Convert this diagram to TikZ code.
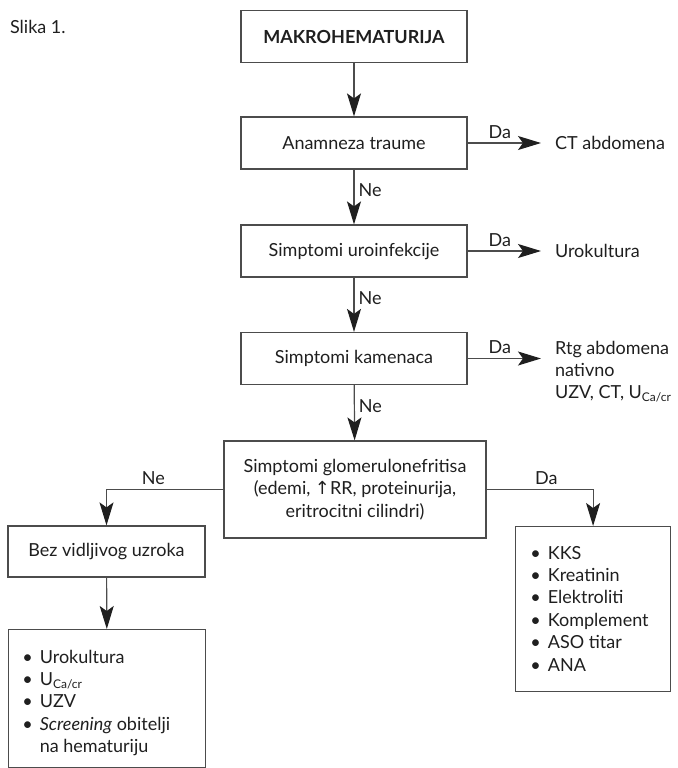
\documentclass[tikz,border=0pt]{standalone}
\usepackage{fontspec}
\setmainfont{Lato}
\newfontfamily\symfont{DejaVu Sans}
\usetikzlibrary{arrows.meta}

\begin{document}
\begin{tikzpicture}[x=0.5pt, y=-0.5pt,
    font=\fontsize{9}{11.2}\selectfont, text=black!88,
    box/.style={rectangle, draw=black!70, line width=0.6pt, minimum width=113pt, minimum height=26pt, align=center},
    flow/.style={draw=black!70, line width=0.6pt, -{Stealth[length=11.5pt, width=7pt, inset=2.5pt, color=black!88]}},
    lab/.style={inner sep=2pt}]
    \useasboundingbox (0,0) rectangle (677,768);
    \node[anchor=west] (slika) at (3,27) {Slika 1.};
    % main column
    \node[box, font=\fontsize{9}{11.2}\selectfont\bfseries] (start) at (354,36.5) {MAKROHEMATURIJA};
    \node[box] (trauma) at (354,143) {Anamneza traume};
    \node[box] (uro) at (354,251) {Simptomi uroinfekcije};
    \node[box] (kam) at (354,358.5) {Simptomi kamenaca};
    \node[box, minimum width=131pt, minimum height=48.5pt] (glom) at (355,489.5)
        {Simptomi glomerulonefritisa\\(edemi, {\symfont\char"2191}RR, proteinurija,\\eritrocitni cilindri)};
    % right side results
    \node[anchor=west] (ct) at (548,143) {CT abdomena};
    \node[anchor=west] (urok) at (548,251) {Urokultura};
    \node[anchor=west, align=left] (rtg) at (548,371.5) {Rtg abdomena\\nativno\\UZV, CT, U\textsubscript{Ca/cr}};
    % lower boxes
    \node[box, minimum width=98.5pt, minimum height=25.5pt] (bez) at (106.5,551.5) {Bez vidljivog uzroka};
    \node[draw=black!70, line width=0.6pt, minimum width=98.5pt, minimum height=69pt, anchor=north west, inner sep=0pt] (nalaz) at (8,629) {};
    \node[anchor=north west, align=left, inner sep=0pt] (nalaztxt) at (22,647)
        {\begin{tabular}{@{}l@{\hspace{3.5pt}}l@{}}
        \textbullet & Urokultura\\
        \textbullet & U\textsubscript{Ca/cr}\\
        \textbullet & UZV\\
        \textbullet & \textit{Screening} obitelji\\
                    & na hematuriju
        \end{tabular}};
    \node[draw=black!70, line width=0.6pt, minimum width=77.5pt, minimum height=82.5pt, anchor=north west, inner sep=0pt] (testovi) at (515,526) {};
    \node[anchor=north west, align=left, inner sep=0pt] (testtxt) at (530,543)
        {\begin{tabular}{@{}l@{\hspace{3.5pt}}l@{}}
        \textbullet & KKS\\
        \textbullet & Kreatinin\\
        \textbullet & Elektroliti\\
        \textbullet & Komplement\\
        \textbullet & ASO titar\\
        \textbullet & ANA
        \end{tabular}};
    % connectors
    \draw[flow] (start) -- (trauma);
    \draw[flow] (trauma) -- node[lab, right, pos=0.38] {Ne} (uro);
    \draw[flow] (uro) -- node[lab, right, pos=0.38] {Ne} (kam);
    \draw[flow] (kam) -- node[lab, right, pos=0.38] {Ne} (glom);
    \draw[flow, shorten >=3.5pt] (trauma) -- node[lab, above, pos=0.4] {Da} (ct);
    \draw[flow, shorten >=3.5pt] (uro) -- node[lab, above, pos=0.4] {Da} (urok);
    \draw[flow, shorten >=3.5pt] (kam.east) -- node[lab, above, pos=0.4] {Da} (kam.east -| rtg.west);
    \draw[flow] (glom.west) -| node[lab, above, pos=0.3] {Ne} (bez.north);
    \draw[flow] (glom.east) -| node[lab, above, pos=0.28] {Da} (testovi.north);
    \draw[flow] (bez) -- (nalaz);
\end{tikzpicture}
\end{document}
